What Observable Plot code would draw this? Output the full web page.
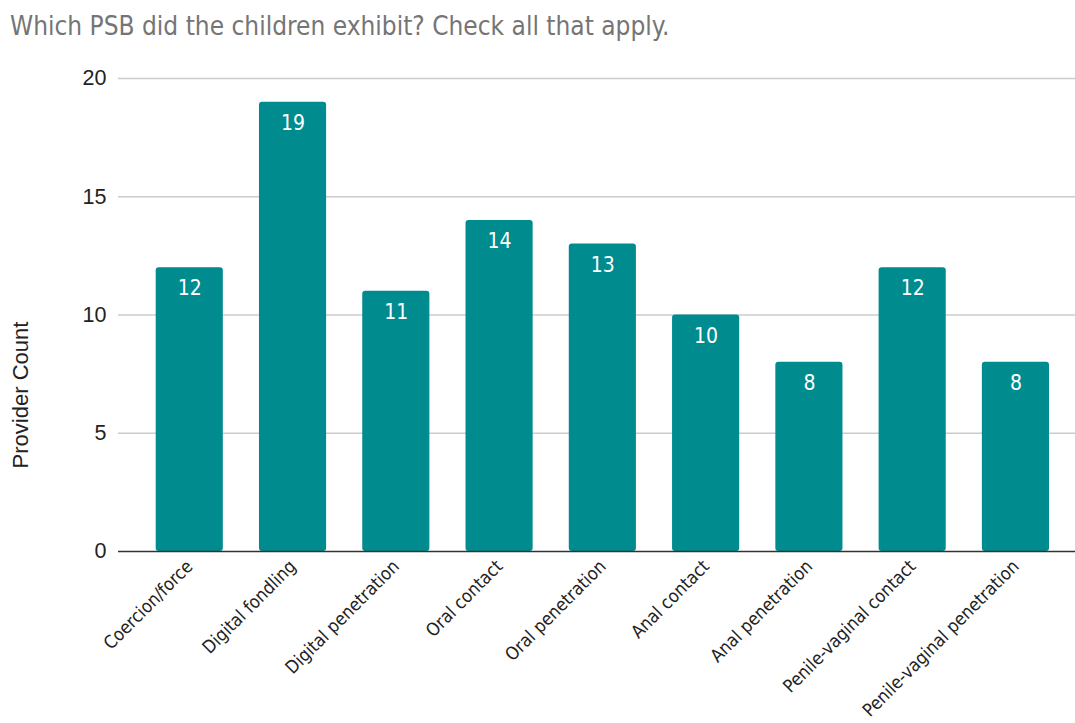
<!DOCTYPE html>
<html><head><meta charset="utf-8">
<script src="https://cdn.jsdelivr.net/npm/d3@7"></script>
<script src="https://cdn.jsdelivr.net/npm/@observablehq/plot@0.6"></script>
<style>
body{margin:0;background:#fff;}
#title{height:52px;box-sizing:border-box;padding:11px 0 0 10px;font:26px "DejaVu Sans Condensed","DejaVu Sans",sans-serif;color:#757575;white-space:nowrap;}
</style></head><body>
<div id="title">Which PSB did the children exhibit? Check all that apply.</div>
<div id="chart"></div>
<script>
const categories = ["Coercion/force","Digital fondling","Digital penetration","Oral contact","Oral penetration","Anal contact","Anal penetration","Penile-vaginal contact","Penile-vaginal penetration"];
const counts = [12,19,11,14,13,10,8,12,8];
const yTicks = [0,5,10,15,20];
const data = categories.map((c,i)=>({category:c,count:counts[i]}));
const tickFont = "DejaVu Sans Condensed, DejaVu Sans, sans-serif";
const chart = Plot.plot({
  width:1075, height:671, marginLeft:118, marginRight:0, marginTop:26, marginBottom:172,
  style:{background:"#fff", fontFamily:"Liberation Sans, Arial, sans-serif"},
  x:{domain:categories, range:[155.7,1049], paddingInner:0.35, paddingOuter:0, round:false, label:null},
  y:{domain:[0,20], label:null},
  marks:[
    Plot.ruleY(yTicks.filter(t=>t>0), {stroke:"#cccccc", strokeWidth:1.3}),
    Plot.barY(data,{x:"category", y:"count", fill:"#008b8f", rx:3}),
    Plot.ruleY([0], {stroke:"#333333", strokeWidth:1.6}),
    Plot.text(data,{x:"category", y:"count", text:d=>String(d.count), dy:21, fill:"white", fontSize:21, fontFamily:tickFont}),
    Plot.axisY({ticks:yTicks, tickSize:0, tickPadding:12, fontSize:21.5, fill:"#222", label:null}),
    Plot.axisX({tickSize:0, tickRotate:-45, tickPadding:12, fontSize:18, fontFamily:tickFont, fill:"#222", label:null}),
    Plot.text(["Provider Count"], {frameAnchor:"left", textAnchor:"middle", rotate:-90, dx:-98, dy:80, fontSize:22, fill:"#222", text:d=>d})
  ]
});
document.getElementById("chart").appendChild(chart);
</script>
</body></html>
